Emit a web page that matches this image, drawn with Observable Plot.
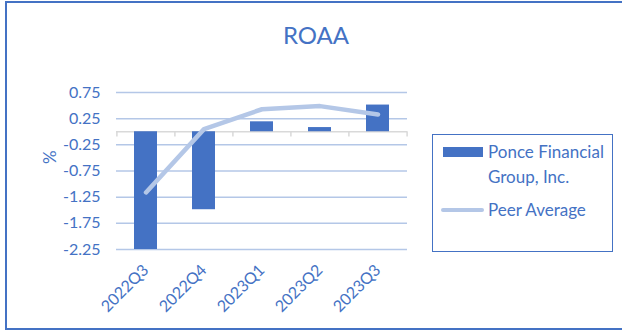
<!DOCTYPE html>
<html>
<head>
<meta charset="utf-8">
<script src="https://cdn.jsdelivr.net/npm/d3@7"></script>
<script src="https://cdn.jsdelivr.net/npm/@observablehq/plot@0.6"></script>
<style>
  html, body { margin: 0; padding: 0; background: #fff; }
  #wrap { position: relative; width: 622px; height: 336px; overflow: hidden; font-family: Lato, "Open Sans", sans-serif; color: #4472c4; }
  #frame { position: absolute; left: 5px; top: 1px; width: 630px; height: 329px; border: 2px solid #4472c4; box-sizing: border-box; }
  #title { position: absolute; left: 0; width: 632px; top: 20px; text-align: center; font-size: 24px; }
  #chart { position: absolute; left: 0; top: 0; }
  #legend { position: absolute; left: 432px; top: 134px; width: 181px; height: 118px; border: 1.5px solid #4472c4; box-sizing: border-box; font-size: 17px; }
  .item { position: absolute; left: 55px; line-height: 25px; }
  .sw { position: absolute; }
</style>
</head>
<body>
<div id="wrap">
  <div id="frame"></div>
  <div id="title">ROAA</div>
  <div id="chart"></div>
  <div id="legend">
    <div class="sw" style="left:10px; top:12px; width:40px; height:10px; background:#4472c4;"></div>
    <div class="item" style="top:4px;">Ponce Financial<br>Group, Inc.</div>
    <div class="sw" style="left:8px; top:73px; width:43px; height:4px; border-radius:2px; background:#b4c7e7;"></div>
    <div class="item" style="top:62px;">Peer Average</div>
  </div>
</div>
<script>
const quarters = ["2022Q3", "2022Q4", "2023Q1", "2023Q2", "2023Q3"];
const ponce = [-2.25, -1.49, 0.19, 0.08, 0.51];
const peer = [-1.16, 0.05, 0.43, 0.49, 0.33];
const yTicks = [0.75, 0.25, -0.25, -0.75, -1.25, -1.75, -2.25];

const data = quarters.map((q, i) => ({q, ponce: ponce[i], peer: peer[i]}));

const W = 430, H = 330, mL = 116, mR = 23;
const step = (W - mL - mR) / quarters.length;
const blue = "#4472c4", light = "#b4c7e7";

const chart = Plot.plot({
  width: W,
  height: H,
  marginLeft: mL,
  marginRight: mR,
  marginTop: 92,
  marginBottom: 81,
  style: {fontFamily: "Lato, 'Open Sans', sans-serif", fontSize: "16px", color: blue, background: "transparent", overflow: "visible"},
  x: {domain: quarters, paddingInner: 0.6, paddingOuter: 0.3, label: null},
  y: {domain: [-2.25, 0.75], label: null},
  marks: [
    Plot.ruleY(yTicks, {stroke: light, strokeWidth: 1.5}),
    Plot.ruleY([0], {stroke: "#d9d9d9", strokeWidth: 1.5}),
    Plot.ruleX(quarters, {x: d => d, y1: 0, y2: -0.1, dx: -step / 2, stroke: "#d9d9d9", strokeWidth: 1.5}),
    Plot.ruleX([quarters[quarters.length - 1]], {x: d => d, y1: 0, y2: -0.1, dx: step / 2, stroke: "#d9d9d9", strokeWidth: 1.5}),
    Plot.barY(data, {x: "q", y: "ponce", fill: blue}),
    Plot.lineY(data, {x: "q", y: "peer", stroke: light, strokeWidth: 4.5, strokeLinecap: "round", strokeLinejoin: "round"}),
    Plot.axisY(yTicks, {tickSize: 0, tickPadding: 16, tickFormat: d => d.toFixed(2), fill: blue, fontSize: 16, label: null}),
    Plot.text(["%"], {frameAnchor: "left", dx: -66, dy: -7, rotate: -90, fill: blue, fontSize: 17}),
    Plot.axisX({tickSize: 0, tickRotate: -45, tickPadding: 18, fill: blue, fontSize: 16, label: null})
  ]
});
document.getElementById("chart").appendChild(chart);
</script>
</body>
</html>
